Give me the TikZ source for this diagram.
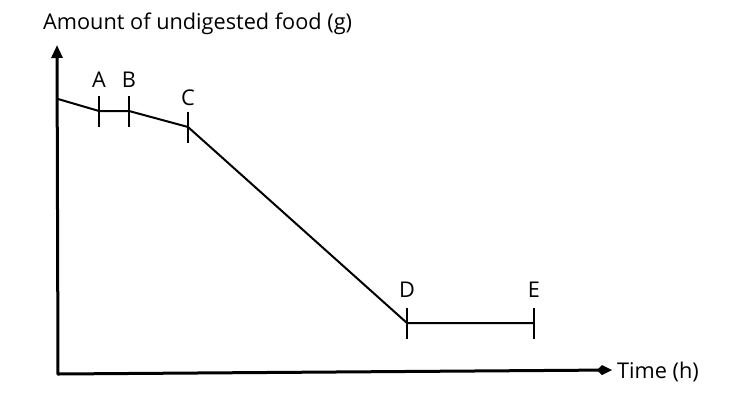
\documentclass[tikz,border=0pt]{standalone}
\usepackage{fontspec}
\setmainfont{Open Sans}
\usetikzlibrary{arrows.meta}

\tikzset{
  axis/.style={line width=3pt, line cap=round, -{Kite[length=15pt,width=10pt,inset=5pt]}},
  yaxis/.style={line width=3pt, line cap=round, -{Triangle[length=13pt,width=11pt]}},
  curve/.style={line width=2pt, line join=round},
  tickmark/.style={line width=2pt},
  lbl/.style={font=\fontsize{21.7}{26}\selectfont, inner sep=0pt}
}

\begin{document}
\begin{tikzpicture}[x=1pt, y=-1pt]

\useasboundingbox (0,0) rectangle (744,400);

% axes
\coordinate (origin) at (58,374);
\coordinate (ytop) at (57,45);
\coordinate (xend) at (612,370);
\draw[yaxis] (origin) -- (ytop);
\draw[axis] (origin) -- (xend);

% points of the curve
\coordinate (start) at (58,99);
\coordinate (a) at (99,111);
\coordinate (b) at (129,111);
\coordinate (c) at (188,127);
\coordinate (d) at (407,323);
\coordinate (e) at (534,323);

\draw[curve] (start) -- (a) -- (b) -- (c) -- (d) -- (e);

% ticks
\foreach \p in {a,b,c,d,e}
  \draw[tickmark] (\p) ++(0,-15.5) -- ++(0,31);

% labels
\node[lbl] (la) at (99,80) {A};
\node[lbl] (lb) at (129,80) {B};
\node[lbl] (lc) at (188,98) {C};
\node[lbl] (ld) at (407,290) {D};
\node[lbl] (le) at (534,290) {E};
\node[lbl, anchor=west] (xlabel) at (617,372) {Time (h)};
\node[lbl, anchor=west] (ylabel) at (43,24) {Amount of undigested food (g)};

\end{tikzpicture}
\end{document}
